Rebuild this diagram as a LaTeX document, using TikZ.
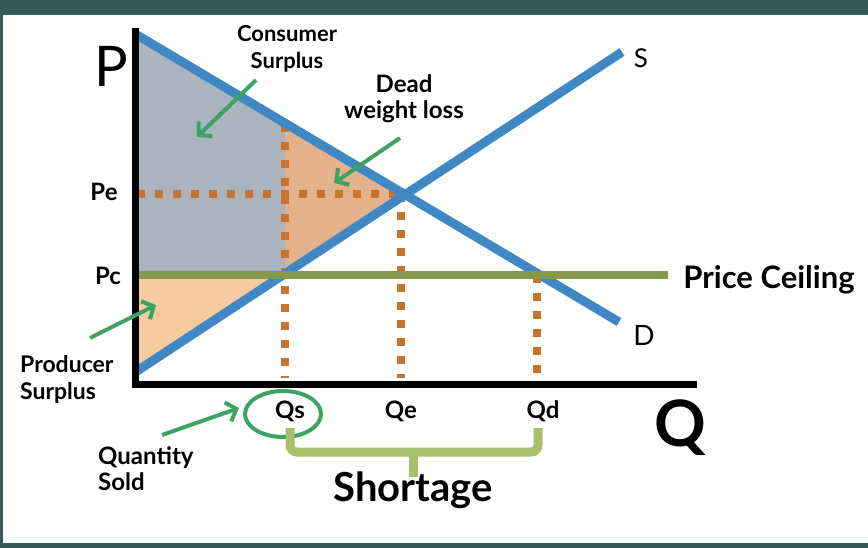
\documentclass[tikz,border=0pt]{standalone}
\usepackage{fontspec}
\setmainfont{Lato}
\usetikzlibrary{arrows.meta}
\definecolor{board}{HTML}{355A57}
\definecolor{curve}{HTML}{4088C4}
\definecolor{csfill}{HTML}{A9B4BF}
\definecolor{dwlfill}{HTML}{E3B28C}
\definecolor{psfill}{HTML}{F7CBA0}
\definecolor{ceil}{HTML}{85994C}
\definecolor{brace}{HTML}{A8BF6C}
\definecolor{pointer}{HTML}{3DA365}
\definecolor{dots}{HTML}{C8742C}
\tikzset{
  curveline/.style={draw=curve,line width=9pt},
  dotline/.style={draw=dots,line width=8pt,dash pattern=on 8pt off 10pt},
  pointerarrow/.style={draw=pointer,line width=4pt,-{Straight Barb[length=9pt,width=20pt]}},
  lbl/.style={inner sep=0pt,text=black},
  axis/.style={draw=black,line width=7pt}
}
\begin{document}
\begin{tikzpicture}[x=1pt,y=-1pt]
\useasboundingbox (0,0) rectangle (868,548);
\fill[board] (0,0) rectangle (868,548);
\fill[white] (3,15) rectangle (868,543);
% key points
\coordinate (O) at (135,381);
\coordinate (Dtop) at (137,35);
\coordinate (Dend) at (619,322);
\coordinate (Sbot) at (137,371);
\coordinate (Send) at (622,52);
\coordinate (E) at (401,194);
\coordinate (Pe) at (137,194);
\coordinate (Pc) at (137,275);
\coordinate (Qs) at (285,275);
\coordinate (Qsd) at (285,124);
\coordinate (Qd) at (537,275);
\coordinate (Qsx) at (285,378);
\coordinate (Qex) at (401,378);
\coordinate (Qdx) at (537,378);
\coordinate (Cend) at (668,275);
% fills
\fill[csfill] (Dtop) -- (Qsd) -- (Qs) -- (Pc) -- cycle;
\fill[dwlfill] (Qsd) -- (E) -- (Qs) -- cycle;
\fill[psfill] (Pc) -- (Qs) -- (Sbot) -- cycle;
% dotted guides
\draw[dotline] (Pe) -- (E);
\draw[dotline] (Qsd) -- (Qsx);
\draw[dotline] (E) -- (Qex);
\draw[dotline] (Qd) -- (Qdx);
% curves
\draw[curveline] (Dtop) -- (Dend);
\draw[curveline] (Sbot) -- (Send);
\draw[draw=ceil,line width=8pt] (Pc) -- (Cend);
% axes
\draw[axis] (135,28) -- (135,384) -- (697,384);
% labels
\node[lbl,font=\fontsize{56}{56}\selectfont] (P) at (111,66) {P};
\node[lbl,font=\fontsize{64}{64}\selectfont\bfseries] (Q) at (680,428) {Q};
\node[lbl,font=\fontsize{26}{26}\selectfont] (S) at (641,58) {S};
\node[lbl,font=\fontsize{28}{28}\selectfont] (D) at (644,335) {D};
\node[lbl,font=\fontsize{24}{24}\selectfont\bfseries] (pe) at (104,192) {Pe};
\node[lbl,font=\fontsize{24}{24}\selectfont\bfseries] (pc) at (108,276) {Pc};
\node[lbl,font=\fontsize{24}{24}\selectfont\bfseries] (qs) at (290,411) {Qs};
\node[lbl,font=\fontsize{24}{24}\selectfont\bfseries] (qe) at (401,411) {Qe};
\node[lbl,font=\fontsize{24}{24}\selectfont\bfseries] (qd) at (543,411) {Qd};
\node[lbl,font=\fontsize{31}{31}\selectfont\bfseries] (pclab) at (769,280) {Price Ceiling};
\node[lbl,align=center,font=\fontsize{22}{27}\selectfont\bfseries] (cs) at (287,49) {Consumer\\Surplus};
\node[lbl,align=center,font=\fontsize{24}{26}\selectfont\bfseries] (dwl) at (404,99) {Dead\\weight loss};
\node[lbl,align=left,anchor=west,font=\fontsize{23}{27}\selectfont\bfseries] (ps) at (20,379) {Producer\\Surplus};
\node[lbl,align=left,anchor=west,font=\fontsize{24}{26}\selectfont\bfseries] (qsold) at (98,469) {Quantity\\Sold};
\node[lbl,font=\fontsize{40}{40}\selectfont\bfseries] (short) at (413,490) {Shortage};
% circle around Qs
\draw[draw=pointer,line width=4pt] (283,414) ellipse [x radius=38,y radius=23];
% shortage bracket
\coordinate (bl) at (290,428);
\coordinate (br) at (538,428);
\coordinate (bm) at (413,452);
\coordinate (bt) at (413,477);
\draw[draw=brace,line width=9pt,rounded corners=7pt] (bl) -- (290,452) -- (538,452) -- (br);
\draw[draw=brace,line width=9pt] (bm) -- (bt);
% pointer arrows
\coordinate (a1s) at (256,80);  \coordinate (a1e) at (197,137);
\coordinate (a2s) at (400,138); \coordinate (a2e) at (334,183);
\coordinate (a3s) at (90,338);  \coordinate (a3e) at (156,305);
\coordinate (a4s) at (162,435); \coordinate (a4e) at (239,408);
\draw[pointerarrow] (a1s) -- (a1e);
\draw[pointerarrow] (a2s) -- (a2e);
\draw[pointerarrow] (a3s) -- (a3e);
\draw[pointerarrow] (a4s) -- (a4e);
\end{tikzpicture}
\end{document}
